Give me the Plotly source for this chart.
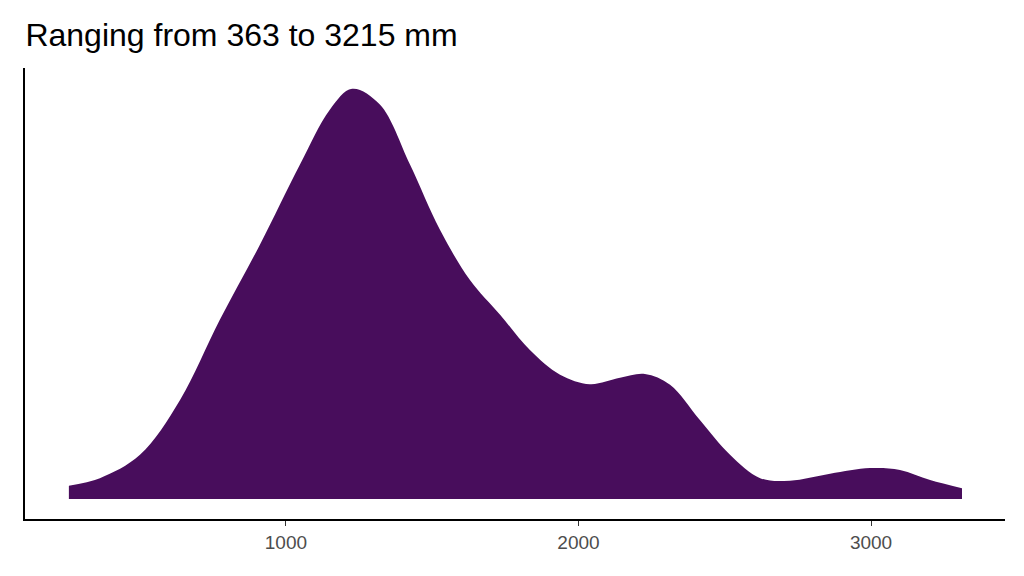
import plotly.graph_objects as go

rainfall_mm = [258, 364, 501, 638, 774, 911, 1048, 1150, 1226, 1321, 1424, 1526, 1629, 1732,
               1834, 1937, 2039, 2142, 2227, 2313, 2415, 2518, 2621, 2723, 2860, 2997, 3099, 3202, 3311]
density_e4 = [0.21, 0.33, 0.70, 1.57, 2.84, 4.03, 5.30, 6.17, 6.50, 6.25, 5.30, 4.27, 3.47, 2.92,
              2.36, 1.97, 1.82, 1.92, 1.98, 1.81, 1.25, 0.70, 0.33, 0.29, 0.40, 0.49, 0.46, 0.30, 0.17]
tick_vals = [1000, 2000, 3000]

fig = go.Figure(go.Scatter(x=rainfall_mm, y=density_e4, mode="lines", fill="tozeroy",
                           line=dict(color="#480D5C", width=0, shape="spline"),
                           fillcolor="#480D5C", hoverinfo="skip"))
fig.update_layout(
    width=1024, height=576, plot_bgcolor="white", paper_bgcolor="white",
    margin=dict(l=17, r=27, t=60, b=65), showlegend=False,
    title=dict(text="Ranging from 363 to 3215 mm", x=0.017, xanchor="left", y=0.953, yanchor="middle",
               font=dict(family="Liberation Sans", size=32, color="black")),
)
fig.update_xaxes(range=[108, 3458], tickvals=tick_vals, showgrid=False, zeroline=False,
                 showline=True, linecolor="black", linewidth=2, ticks="outside", ticklen=5,
                 tickcolor="#333", tickfont=dict(family="Liberation Sans", size=19, color="#4d4d4d"))
fig.update_yaxes(range=[-0.317, 6.83], showticklabels=False, showgrid=False, zeroline=False,
                 showline=True, linecolor="black", linewidth=2, ticks="")
fig.write_html("out.html")
